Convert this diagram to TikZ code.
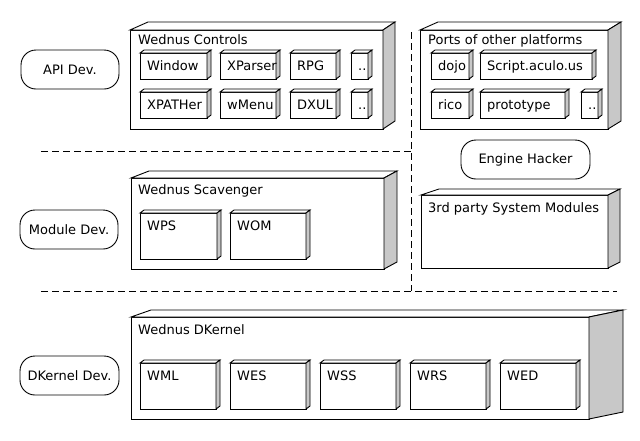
\documentclass[tikz,border=0pt]{standalone}
\usepackage{fontspec}
\setmainfont{DejaVu Sans}
\usetikzlibrary{calc}
\definecolor{sidegray}{RGB}{200,200,200}
\tikzset{
  boxline/.style={draw=black, line width=0.9pt, line join=miter},
  umlbox/.style={boxline, fill=white, inner sep=0pt, outer sep=0pt, anchor=north west},
  actor/.style={draw=black, line width=0.9pt, rounded corners=15pt, inner sep=0pt, font=\fontsize{13}{15}\selectfont},
  lbl/.style={anchor=base west, inner sep=0pt, font=\fontsize{13}{15}\selectfont},
  sep/.style={draw=black, line width=0.9pt, dash pattern=on 7pt off 4pt},
}
\newcommand\mkbox[5]{%
  \node[umlbox, minimum width={#4pt-#2pt}, minimum height={#5pt-#3pt}] (#1) at (#2,#3) {};}
\newcommand\faces[4]{%
  \draw[boxline, fill=white] (#1.north west) -- ++(#2,-#4) -- ([shift={(#3,-#4)}]#1.north east) -- (#1.north east) -- cycle;
  \draw[boxline, fill=sidegray] (#1.north east) -- ++(#3,-#4) -- ([shift={(#3,-#4)}]#1.south east) -- (#1.south east) -- cycle;}
\newcommand\cell[6]{%
  \mkbox{#1}{#2}{#3}{#4}{#5}\faces{#1}{4}{4}{3}%
  \node[lbl] (#1-t) at ({#2+7},{(#3+#5)/2+4.7}) {#6};}
\newcommand\tcell[6]{%
  \mkbox{#1}{#2}{#3}{#4}{#5}\faces{#1}{4}{4}{3}%
  \node[lbl] (#1-t) at ({#2+7},{#3+17.7}) {#6};}
\begin{document}
\begin{tikzpicture}[x=1pt,y=-1pt]
\fill[white] (0,0) rectangle (640,440);
\useasboundingbox (0,0) rectangle (640,440);

% actors
\node[actor, minimum width=98pt, minimum height=39pt] (api) at (70,69.5) {API Dev.};
\node[actor, minimum width=98pt, minimum height=39pt] (mod) at (69,229.5) {Module Dev.};
\node[actor, minimum width=99pt, minimum height=39pt] (dk) at (69.5,375.5) {DKernel Dev.};
\node[actor, minimum width=129pt, minimum height=39pt] (eng) at (525.5,159.5) {Engine Hacker};

% Wednus Controls
\mkbox{ctrl}{130}{30}{383}{129}\faces{ctrl}{18}{12}{8}
\node[lbl] (ctrl-t) at (138,44) {Wednus Controls};
\cell{win}{140}{53}{207}{79}{Window}
\cell{xpa}{220}{53}{276}{79}{XParser}
\cell{rpg}{290}{53}{336}{79}{RPG}
\cell{dd1}{351}{53}{368}{79}{..}
\cell{xph}{140}{92}{207}{118}{XPATHer}
\cell{wme}{220}{92}{276}{118}{wMenu}
\cell{dxu}{290}{92}{336}{118}{DXUL}
\cell{dd2}{351}{92}{368}{118}{..}

% Ports
\mkbox{ports}{420}{30}{608}{129}\faces{ports}{18}{13}{8}
\node[lbl] (ports-t) at (428,44) {Ports of other platforms};
\cell{dojo}{431}{53}{469}{79}{dojo}
\cell{scr}{480}{53}{592}{79}{Script.aculo.us}
\cell{rico}{431}{92}{469}{118}{rico}
\cell{pro}{480}{92}{565}{118}{prototype}
\cell{dd3}{581}{92}{598}{118}{..}

% Scavenger
\mkbox{scav}{131}{178}{384}{269}\faces{scav}{18}{13}{7}
\node[lbl] (scav-t) at (138,194.5) {Wednus Scavenger};
\tcell{wps}{140}{213}{217}{259}{WPS}
\tcell{wom}{230}{213}{306}{259}{WOM}

% 3rd party
\mkbox{third}{421}{195}{608}{268}\faces{third}{18}{12}{6}
\node[lbl] (third-t) at (428,212.5) {3rd party System Modules};

% DKernel
\mkbox{dker}{131}{317}{589}{419}\faces{dker}{20}{34}{7}
\node[lbl] (dker-t) at (138,334.5) {Wednus DKernel};
\tcell{wml}{140}{363}{216}{409}{WML}
\tcell{wes}{230}{363}{306}{409}{WES}
\tcell{wss}{320}{363}{396}{409}{WSS}
\tcell{wrs}{410}{363}{486}{409}{WRS}
\tcell{wed}{500}{363}{576}{409}{WED}

% separators
\coordinate (d1a) at (41,151);
\coordinate (d1b) at (411,151);
\coordinate (d2a) at (41,291);
\coordinate (d2b) at (617,291);
\coordinate (vt) at (411,32);
\coordinate (vb) at (411,291);
\draw[sep] (d1a) -- (d1b);
\draw[sep] (d2a) -- (d2b);
\draw[sep] (vt) -- (vb);
\end{tikzpicture}
\end{document}
